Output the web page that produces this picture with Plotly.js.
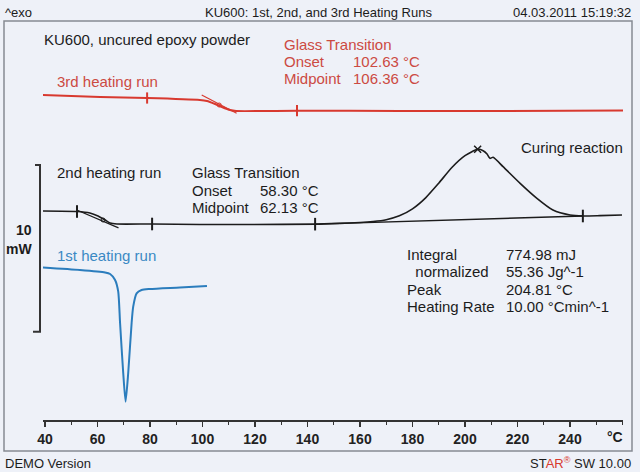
<!DOCTYPE html>
<html>
<head>
<meta charset="utf-8">
<script src="https://cdn.plot.ly/plotly-3.0.1.min.js"></script>
<style>
html,body{margin:0;padding:0;background:#eef1f8;}
#chart{width:640px;height:472px;}
</style>
</head>
<body>
<div id="chart"></div>
<script>
// ---- data (temperature in °C, heat flow in mW, arbitrary offsets per run) ----
const run3T = [39.2, 61.0, 78.9, 99.0, 101.7, 104.8, 107.4, 110.5, 112.8, 136.0, 175.2, 213.3, 260.2];
const run3Q = [14.20, 14.08, 14.02, 13.90, 13.84, 13.66, 13.48, 13.30, 13.24, 13.26, 13.24, 13.24, 13.27];

const run2T = [39.2, 52.2, 57.1, 60.2, 62.9, 64.8, 67.4, 80.8, 99.0, 118.1, 142.9, 152.4, 160.0, 165.0, 170.0, 175.0, 180.0, 185.0, 190.0, 195.0, 200.0, 204.8, 206.9, 208.4, 209.5, 210.7, 214.5, 221.0, 227.4, 233.5, 240.0, 244.9, 251.4, 259.8];
const run2Q = [7.24, 7.21, 7.12, 6.94, 6.70, 6.52, 6.46, 6.46, 6.43, 6.43, 6.45, 6.50, 6.55, 6.61, 6.72, 6.95, 7.37, 8.03, 8.91, 9.85, 10.56, 10.94, 10.86, 10.66, 10.40, 10.46, 9.90, 8.90, 8.00, 7.30, 7.00, 6.94, 6.96, 7.00];

const run1T = [39.2, 53.3, 62.9, 64.8, 66.7, 67.9, 68.6, 69.8, 70.7, 71.7, 73.0, 73.6, 74.9, 76.8, 80.0, 91.4, 101.7];
const run1Q = [3.85, 3.70, 3.55, 3.46, 3.10, 2.40, 0.52, -2.48, -4.20, -2.48, 0.52, 1.50, 2.30, 2.50, 2.56, 2.65, 2.74];

const baseT = [142.9, 244.9];
const baseQ = [6.45, 6.94];

const tan3T = [99.7, 113.0];
const tan3Q = [14.20, 13.10];
const tan2T = [52.1, 68.0];
const tan2Q = [7.30, 6.23];

const lim3T = [78.9, 136.0];
const lim3Q = [14.02, 13.26];
const lim2T = [52.2, 80.8, 142.9, 244.9];
const lim2Q = [7.21, 6.46, 6.45, 6.94];

const mid3T = [106.36];
const mid3Q = [13.60];
const mid2T = [62.13];
const mid2Q = [6.70];

const peakT = [204.81];
const peakQ = [10.94];

const tickVals = [40, 60, 80, 100, 120, 140, 160, 180, 200, 220, 240];
const tickText = ['40', '60', '80', '100', '120', '140', '160', '180', '200', '220', '240'];

const headerLeft = '^exo';
const headerTitle = 'KU600: 1st, 2nd, and 3rd Heating Runs';
const headerDate = '04.03.2011 15:19:32';
const sampleLabel = 'KU600, uncured epoxy powder';
const run3Label = '3rd heating run';
const run2Label = '2nd heating run';
const run1Label = '1st heating run';
const curingLabel = 'Curing reaction';
const gt3Labels = ['Glass Transition', 'Onset', 'Midpoint'];
const gt3Values = ['', '102.63 °C', '106.36 °C'];
const gt2Labels = ['Glass Transition', 'Onset', 'Midpoint'];
const gt2Values = ['', '58.30 °C', '62.13 °C'];
const intLabels = ['Integral', '  normalized', 'Peak', 'Heating Rate'];
const intValues = ['774.98 mJ', '55.36 Jg^-1', '204.81 °C', '10.00 °Cmin^-1'];

// ---- styling / geometry ----
const RED = '#d8392f', RED_T = '#cc4a42', BLUE = '#2b7dbd', BLUE_T = '#3a89c4', BLACK = '#1c1c1c';
const FONT = 'Liberation Sans, Arial, Helvetica, sans-serif';
const L = 43, R = 623, T = 22, B = 420;
const xp = px => (px - L) / (R - L);
const yp = py => (B - py) / (B - T);

function line(x, y, color, width, name) {
  return {x: x, y: y, type: 'scatter', mode: 'lines', name: name,
    line: {color: color, width: width, shape: 'spline', smoothing: 0.6},
    hoverinfo: 'skip', showlegend: false, cliponaxis: false};
}
function marks(x, y, color, symbol, size, width) {
  return {x: x, y: y, type: 'scatter', mode: 'markers',
    marker: {symbol: symbol, size: size, color: color, line: {color: color, width: width}},
    hoverinfo: 'skip', showlegend: false, cliponaxis: false};
}

const traces = [
  line(run3T, run3Q, RED, 2, '3rd'),
  {x: tan3T, y: tan3Q, type: 'scatter', mode: 'lines', line: {color: RED, width: 1.2}, hoverinfo: 'skip', showlegend: false},
  marks(lim3T, lim3Q, RED, 'line-ns', 8, 2),
  marks(mid3T, mid3Q, RED, 'circle-open', 4, 1),
  line(run2T, run2Q, BLACK, 1.6, '2nd'),
  {x: baseT, y: baseQ, type: 'scatter', mode: 'lines', line: {color: BLACK, width: 1.4}, hoverinfo: 'skip', showlegend: false},
  {x: tan2T, y: tan2Q, type: 'scatter', mode: 'lines', line: {color: BLACK, width: 1.2}, hoverinfo: 'skip', showlegend: false},
  marks(lim2T, lim2Q, BLACK, 'line-ns', 9, 2),
  marks(mid2T, mid2Q, BLACK, 'circle-open', 4, 1),
  marks(peakT, peakQ, BLACK, 'x-thin', 7, 1.5),
  line(run1T, run1Q, BLUE, 2, '1st')
];

const ann = [];
function txt(text, px, py, opts) {
  opts = opts || {};
  ann.push({text: text, xref: 'paper', yref: 'paper', x: xp(px), y: yp(py),
    xanchor: opts.anchor || 'left', yanchor: 'middle', showarrow: false,
    font: {family: FONT, size: opts.size || 15, color: opts.color || BLACK, weight: opts.weight || 'normal'}});
}

// header / footer
txt(headerLeft, 3, 12, {size: 13});
txt(headerTitle, 318, 12, {size: 13, anchor: 'center'});
txt(headerDate, 633, 12, {size: 13, anchor: 'right'});
txt('DEMO Version', 3, 463, {size: 13});
txt('ST<span style="color:#d8392f">AR<sup>®</sup></span> SW 10.00', 633, 463, {size: 13, anchor: 'right'});

// labels in the plot
txt(sampleLabel, 41.7, 39.5);
txt(run3Label, 55, 81.5, {color: RED_T});
gt3Labels.forEach((s, i) => txt(s, 281.7, 44 + i * 17.2, {color: RED_T}));
gt3Values.forEach((s, i) => { if (s) txt(s, 350.7, 44 + i * 17.2, {color: RED_T}); });
txt(run2Label, 55, 172.7);
gt2Labels.forEach((s, i) => txt(s, 190, 172.7 + i * 17.5));
gt2Values.forEach((s, i) => { if (s) txt(s, 258.3, 172.7 + i * 17.5); });
txt(curingLabel, 519, 147.3);
txt(run1Label, 55, 255, {color: BLUE_T});
intLabels.forEach((s, i) => txt(s.replace(/ /g, '&nbsp;'), 405, 254 + i * 17.5));
intValues.forEach((s, i) => txt(s, 504, 254 + i * 17.5));

// scale bar label and unit
txt('10', 34, 230, {size: 14, weight: 'bold', anchor: 'right'});
txt('mW', 34, 249, {size: 14, weight: 'bold', anchor: 'right'});
txt('°C', 615, 437, {size: 14, weight: 'bold', anchor: 'center'});

const shapes = [
  {type: 'rect', xref: 'paper', yref: 'paper', x0: xp(4), x1: xp(632), y0: yp(451), y1: yp(21),
   line: {color: '#868a92', width: 1.5}, fillcolor: 'rgba(0,0,0,0)', layer: 'below'},
  {type: 'path', xref: 'paper', yref: 'paper',
   path: `M ${xp(35)},${yp(165)} L ${xp(40)},${yp(165)} L ${xp(40)},${yp(331.7)} L ${xp(33)},${yp(331.7)}`,
   line: {color: '#333', width: 2}}
];

const layout = {
  width: 640, height: 472,
  margin: {l: L, r: 640 - R, t: T, b: 472 - B, pad: 0},
  paper_bgcolor: '#eef1f8', plot_bgcolor: '#eef1f8',
  showlegend: false,
  xaxis: {
    range: [39.24, 260.19], fixedrange: true,
    tickmode: 'array', tickvals: tickVals, ticktext: tickText,
    ticks: 'outside', ticklen: 5, tickwidth: 1.5, tickcolor: '#333',
    showline: true, linecolor: '#333', linewidth: 2,
    showgrid: false, zeroline: false,
    minor: {ticks: 'outside', dtick: 10, tick0: 0, ticklen: 3, tickwidth: 1.2, tickcolor: '#333', showgrid: false},
    tickfont: {family: FONT, size: 14, color: '#222', weight: 'bold'}
  },
  yaxis: {range: [-5.30, 18.58], visible: false, fixedrange: true},
  annotations: ann,
  shapes: shapes
};

Plotly.newPlot('chart', traces, layout, {displayModeBar: false, staticPlot: true});
</script>
</body>
</html>
